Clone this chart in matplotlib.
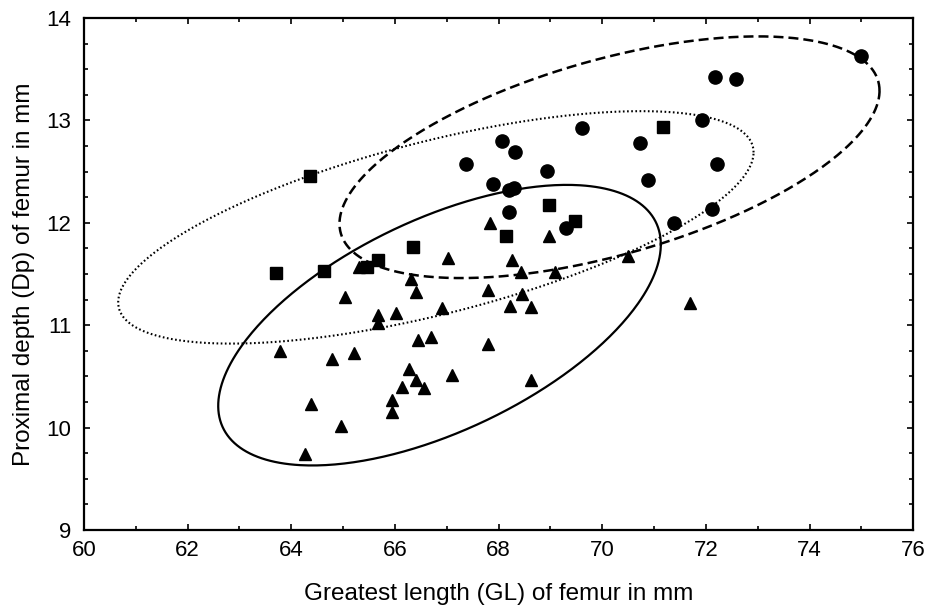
import numpy as np
import matplotlib
matplotlib.use('Agg')
import matplotlib.pyplot as plt
from matplotlib.ticker import MultipleLocator

plt.rcParams['font.family'] = ['Liberation Sans', 'DejaVu Sans']

# circles
circ_x = [75.0, 72.17, 72.58, 71.92, 69.60, 68.07, 68.31, 70.72, 72.21, 68.94,
          70.89, 67.90, 68.20, 68.29, 68.20, 69.30, 72.12, 71.38, 67.37]
circ_y = [13.63, 13.42, 13.40, 13.00, 12.93, 12.80, 12.69, 12.78, 12.57, 12.51,
          12.42, 12.38, 12.32, 12.34, 12.11, 11.95, 12.13, 12.00, 12.57]

# squares
sq_x = [64.36, 63.70, 64.64, 65.46, 65.67, 66.34, 71.18, 68.98, 69.48, 68.15]
sq_y = [12.46, 11.51, 11.53, 11.57, 11.64, 11.76, 12.94, 12.17, 12.02, 11.87]

# triangles
tri_x = [67.84, 67.02, 65.30, 66.31, 66.40, 67.80, 65.04, 66.90, 65.67, 65.67,
         66.03, 66.44, 66.69, 67.80, 63.79, 64.79, 65.21, 66.27, 66.40, 66.14,
         66.57, 67.10, 64.38, 65.94, 65.94, 64.96, 64.27, 68.97, 68.25, 68.43,
         69.09, 70.49, 68.45, 68.22, 68.63, 71.69, 68.63]
tri_y = [12.00, 11.66, 11.57, 11.45, 11.32, 11.34, 11.28, 11.17, 11.10, 11.02,
         11.12, 10.86, 10.88, 10.82, 10.75, 10.67, 10.73, 10.57, 10.46, 10.40,
         10.39, 10.51, 10.23, 10.27, 10.15, 10.02, 9.74, 11.87, 11.64, 11.52,
         11.52, 11.68, 11.30, 11.19, 11.18, 11.22, 10.46]

# ellipses: center x, center y, half x-extent, half y-extent, correlation
ell_circ = (70.14, 12.64, 5.21, 1.18, 0.55)
ell_sq = (66.79, 11.955, 6.13, 1.135, 0.645)
ell_tri = (66.86, 11.00, 4.27, 1.37, 0.575)


def ellipse_xy(cx, cy, ax, by, rho, n=400):
    t = np.linspace(0, 2 * np.pi, n)
    x = cx + ax * np.cos(t)
    y = cy + by * (rho * np.cos(t) + np.sqrt(1 - rho ** 2) * np.sin(t))
    return x, y


fig = plt.figure(figsize=(9.29, 6.11), dpi=100)
ax = fig.add_axes([0.0904, 0.1326, 0.8926, 0.838])

ex, ey = ellipse_xy(*ell_circ)
ax.plot(ex, ey, color='black', lw=1.8, linestyle=(0, (4, 2)))
ex, ey = ellipse_xy(*ell_sq)
ax.plot(ex, ey, color='black', lw=1.5, linestyle=(0, (0.8, 1.2)))
ex, ey = ellipse_xy(*ell_tri)
ax.plot(ex, ey, color='black', lw=1.6, linestyle='-')

ax.plot(circ_x, circ_y, 'o', color='black', markersize=9.5, linestyle='none')
ax.plot(sq_x, sq_y, 's', color='black', markersize=9.0, linestyle='none')
ax.plot(tri_x, tri_y, '^', color='black', markersize=8.0, linestyle='none')

ax.set_xlim(60, 76)
ax.set_ylim(9, 14)
ax.xaxis.set_major_locator(MultipleLocator(2))
ax.xaxis.set_minor_locator(MultipleLocator(1))
ax.yaxis.set_major_locator(MultipleLocator(1))
ax.yaxis.set_minor_locator(MultipleLocator(0.25))
ax.tick_params(which='both', direction='in', top=True, right=True,
               labelsize=16, width=1.2, color='black')
ax.tick_params(which='major', length=4)
ax.tick_params(which='minor', length=3)
ax.tick_params(axis='x', which='major', pad=7)
ax.tick_params(axis='y', which='major', pad=9)
for s in ax.spines.values():
    s.set_linewidth(1.6)

ax.set_xlabel('Greatest length (GL) of femur in mm', fontsize=17.5, labelpad=16)
ax.set_ylabel('Proximal depth (Dp) of femur in mm', fontsize=17.5, labelpad=8)

fig.savefig('out.png', dpi=100)
